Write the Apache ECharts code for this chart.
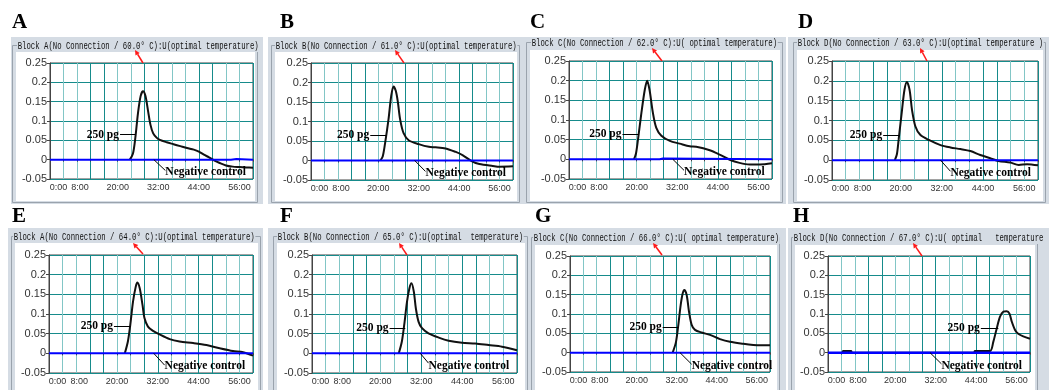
<!DOCTYPE html>
<html>
<head>
<meta charset="utf-8">
<script src="https://cdn.jsdelivr.net/npm/echarts@6.0.0/dist/echarts.min.js"></script>
<style>
  html, body { margin: 0; padding: 0; background: #fff; }
  #main { width: 1049px; height: 390px; }
</style>
</head>
<body>
<div id="main"></div>
<script>
// x axis: minutes, labels only at some ticks
const xTickValues = [0, 8, 20, 32, 44, 56];
const xTickLabels = ['0:00', '8:00', '20:00', '32:00', '44:00', '56:00'];

const panelLetters = ['A', 'B', 'C', 'D', 'E', 'F', 'G', 'H'];
const panelTitles = [
  'Block A(No Connection / 60.0° C):U(optimal temperature)',
  'Block B(No Connection / 61.0° C):U(optimal temperature)',
  'Block C(No Connection / 62.0° C):U( optimal temperature)',
  'Block D(No Connection / 63.0° C):U(optimal temperature )',
  'Block A(No Connection / 64.0° C):U(optimal temperature)',
  'Block B(No Connection / 65.0° C):U(optimal  temperature)',
  'Block C(No Connection / 66.0° C):U( optimal temperature)',
  'Block D(No Connection / 67.0° C):U( optimal   temperature'
];

// 250 pg curves, [minutes, value]
const curveA = [[23.6, 0], [24.5, 0.015], [25.2, 0.055], [26, 0.12], [26.8, 0.165], [27.5, 0.177], [28.2, 0.165], [29, 0.125], [29.7, 0.09], [30.5, 0.068], [31.5, 0.057], [32.5, 0.051], [34.5, 0.045], [36.5, 0.04], [38.5, 0.035], [40.5, 0.03], [42.5, 0.026], [44, 0.021], [45.5, 0.013], [47, 0.006], [48.5, -0.002], [50, -0.008], [52, -0.015], [54, -0.018], [56, -0.019], [58, -0.02], [60, -0.021]];
const curveB = [[20.6, 0], [21.3, 0.01], [22, 0.044], [23, 0.104], [23.8, 0.164], [24.5, 0.19], [25.2, 0.178], [25.8, 0.15], [26.5, 0.104], [27.5, 0.07], [29, 0.052], [32, 0.042], [35, 0.035], [37, 0.034], [40, 0.031], [43, 0.022], [45, 0.014], [48, -0.003], [50, -0.009], [54, -0.014], [56, -0.016], [60, -0.015]];
const curveC = [[19.2, 0], [19.8, 0.015], [20.4, 0.051], [21.4, 0.118], [22.4, 0.177], [23.1, 0.2], [23.8, 0.177], [24.8, 0.118], [25.8, 0.08], [27.3, 0.06], [29.8, 0.047], [32.7, 0.04], [35.7, 0.033], [37.6, 0.032], [41.6, 0.023], [44.5, 0.012], [47.5, -0.001], [50.4, -0.009], [53.4, -0.013], [56.4, -0.013], [60, -0.01]];
const curveD = [[18.3, 0], [18.9, 0.015], [19.4, 0.051], [20.4, 0.127], [21.1, 0.177], [21.8, 0.197], [22.6, 0.177], [23.3, 0.127], [24.3, 0.085], [25.7, 0.064], [28.2, 0.051], [31.6, 0.038], [34.5, 0.032], [37.4, 0.028], [40.3, 0.023], [43.2, 0.013], [46.1, 0.005], [48.5, -0.002], [51.9, -0.006], [54.4, -0.012], [56.8, -0.01], [60, -0.013]];
const curveE = [[22.3, 0], [23.2, 0.03], [23.9, 0.072], [24.7, 0.131], [25.5, 0.169], [26, 0.18], [26.7, 0.165], [27.5, 0.123], [28.1, 0.089], [29.1, 0.068], [30.6, 0.057], [32.5, 0.048], [35.5, 0.036], [38.4, 0.03], [42.4, 0.026], [46.3, 0.021], [50.2, 0.013], [54.1, 0.006], [57.1, 0.003], [60, -0.006]];
const curveF = [[25.4, 0], [26.3, 0.03], [27.1, 0.08], [27.8, 0.131], [28.5, 0.165], [29.1, 0.178], [29.8, 0.157], [30.4, 0.114], [31.2, 0.08], [32.2, 0.064], [34.1, 0.051], [37.1, 0.04], [40, 0.032], [43.9, 0.027], [47.8, 0.025], [51.7, 0.021], [55.6, 0.017], [60, 0.008]];
const curveG = [[30.8, 0], [31.8, 0.028], [32.5, 0.072], [33.2, 0.123], [33.8, 0.153], [34.3, 0.162], [35, 0.149], [35.7, 0.106], [36.5, 0.072], [37.5, 0.059], [39.5, 0.052], [42, 0.046], [45, 0.035], [48, 0.028], [52, 0.023], [55, 0.02], [57, 0.019], [60, 0.019]];
const curveH = [[4.3, 0], [4.5, 0.004], [6.9, 0.004], [7.1, 0], [43.4, 0], [43.6, 0.004], [48.1, 0.004], [49.1, 0.028], [50.1, 0.062], [51.1, 0.093], [52.1, 0.106], [53.1, 0.107], [53.9, 0.101], [54.6, 0.08], [55.6, 0.058], [56.5, 0.049], [58, 0.042], [60, 0.036]];

// negative controls
const negA = [[0, 0], [53.5, 0], [53.7, 0.002], [55.1, 0.002], [55.3, 0], [60, 0]];
const negC = [[0, 0], [26.8, 0], [27, 0.002], [27.8, 0.002], [28, 0], [60, 0]];
const negFlat = [[0, 0], [60, 0]];

const curves = [curveA, curveB, curveC, curveD, curveE, curveF, curveG, curveH];
const negatives = [negA, negFlat, negC, negFlat, negFlat, negFlat, negFlat, negFlat];

// label anchors in data units: [text end, leader end, value]
const pgNotes = [[20.4, 25.3, 0.065], [17.3, 22.4, 0.065], [15.5, 20.7, 0.065], [14.6, 19.7, 0.064], [18.8, 24.0, 0.069], [22.4, 27.3, 0.065], [27.5, 32.5, 0.066], [45.1, 50.6, 0.064]];
// [leader start, leader end, leader end value, text value]
const negNotes = [[30.7, 34.1, -0.028, -0.033], [30.8, 34.0, -0.028, -0.033], [30.7, 34.0, -0.028, -0.033], [31.6, 34.5, -0.028, -0.033], [30.8, 34.0, -0.03, -0.033], [31.7, 34.1, -0.025, -0.033], [33.0, 36.5, -0.03, -0.034], [30.3, 33.7, -0.029, -0.034]];

// layout (pixels)
const gridBoxes = [[50, 63, 203, 116], [311, 63, 202, 117], [569, 61, 203, 118], [832, 61, 206, 119], [49, 255, 204, 118], [312, 255, 205, 118], [570, 256, 200, 116], [828, 256, 202, 116]];
const grayBoxes = [[11, 37, 263, 204], [268, 37, 522, 204], [522, 37, 786, 204], [788, 37, 1049, 204], [8, 228, 263, 390], [268, 228, 530, 390], [530, 228, 786, 390], [788, 228, 1049, 390]];
const whiteBoxes = [[16, 52, 255, 201], [275, 52, 517, 201], [530, 50, 780, 201], [797, 50, 1043, 201], [15, 243, 258, 390], [277, 243, 525, 390], [535, 245, 777, 390], [795, 245, 1035, 390]];
const titlePos = [[17, 46], [275, 46], [531, 43], [797, 43], [13, 237], [277, 237], [533, 238], [793, 238]];
const letterPos = [[12, 23], [280, 23], [530, 23], [798, 23], [12, 217], [280, 217], [535, 217], [793, 217]];
const arrows = [[135, 50, 143, 63], [395, 50, 404, 63], [652, 48, 662, 61], [920, 48, 927, 61], [133, 243, 143, 254], [399, 243, 407, 255], [653, 243, 662, 255], [913, 243, 922, 256]];

const GRAY = '#d5dce4';
const TEAL = '#168b8b';
const TEAL_LIGHT = '#82c6c6';
const AXIS = '#444';
const SERIF = '"Liberation Serif", "Times New Roman", serif';
const SANS = '"Liberation Sans", Arial, sans-serif';

const grids = [];
const xAxes = [];
const yAxes = [];
const series = [];
const graphics = [];

panelLetters.forEach((letter, i) => {
  const [gl, gt, gw, gh] = gridBoxes[i];
  grids.push({ left: gl, top: gt, width: gw, height: gh, show: true, borderColor: AXIS, borderWidth: 1, backgroundColor: '#fff' });

  xAxes.push({
    gridIndex: i,
    type: 'value',
    min: 0,
    max: 60,
    interval: 4,
    axisLine: { lineStyle: { color: AXIS, width: 1 } },
    axisTick: { show: true, length: 2, lineStyle: { color: AXIS } },
    axisLabel: {
      color: '#333',
      fontFamily: SANS,
      fontSize: 9,
      margin: 4,
      formatter: v => {
        const k = xTickValues.indexOf(Math.round(v));
        if (k < 0) return '';
        if (k === 0) return '{first|' + xTickLabels[k] + '}';
        if (k === 1) return '{second|' + xTickLabels[k] + '}';
        return xTickLabels[k];
      },
      rich: {
        first: { padding: [0, 0, 0, 17] },
        second: { padding: [0, 0, 0, 6] }
      }
    },
    splitLine: { show: true, lineStyle: { color: [TEAL, TEAL_LIGHT, TEAL_LIGHT, TEAL], width: 1 } }
  });

  yAxes.push({
    gridIndex: i,
    type: 'value',
    min: -0.05,
    max: 0.25,
    interval: 0.05,
    axisLine: { show: true, lineStyle: { color: AXIS, width: 1 } },
    axisTick: { show: true, length: 3, lineStyle: { color: AXIS } },
    axisLabel: { color: '#333', fontFamily: SANS, fontSize: 11, margin: 3, formatter: v => String(+v.toFixed(2)) },
    splitLine: { show: true, lineStyle: { color: TEAL, width: 1 } }
  });

  const pg = pgNotes[i];
  const ng = negNotes[i];
  const noteLabel = { show: true, color: '#000', fontFamily: SERIF, fontWeight: 'bold', fontSize: 11.5 };

  series.push({
    name: '250 pg ' + letter,
    type: 'line',
    xAxisIndex: i,
    yAxisIndex: i,
    data: curves[i],
    showSymbol: false,
    smooth: 0.3,
    lineStyle: { color: '#111', width: 2 },
    z: 3,
    markLine: {
      silent: true,
      symbol: ['none', 'none'],
      label: { show: false },
      lineStyle: { color: '#000', width: 1, type: 'solid' },
      data: [
        [{ coord: [pg[0] + 0.3, pg[2]] }, { coord: [pg[1], pg[2]] }],
        [{ coord: [ng[0], 0] }, { coord: [ng[1], ng[2]] }]
      ]
    },
    markPoint: {
      silent: true,
      symbol: 'circle',
      symbolSize: 0,
      data: [
        { coord: [pg[0], pg[2]], label: Object.assign({}, noteLabel, { formatter: '250 pg', position: 'left', distance: 0 }) },
        { coord: [ng[1], ng[3]], label: Object.assign({}, noteLabel, { formatter: 'Negative control', position: 'right', distance: 0 }) }
      ]
    }
  });

  series.push({
    name: 'Negative control ' + letter,
    type: 'line',
    xAxisIndex: i,
    yAxisIndex: i,
    data: negatives[i],
    showSymbol: false,
    lineStyle: { color: '#0000ff', width: i === 7 ? 2.5 : 2 },
    z: 4
  });

  // panel frame, title, letter and red arrow
  const g = grayBoxes[i];
  const w = whiteBoxes[i];
  const t = titlePos[i];
  graphics.push({ type: 'rect', z: -10, shape: { x: g[0], y: g[1], width: g[2] - g[0], height: g[3] - g[1] }, style: { fill: GRAY } });
  graphics.push({ type: 'rect', z: -9, shape: { x: w[0] - 3.5, y: t[1] - 0.5, width: w[2] - w[0] + 6, height: w[3] - t[1] + 2 }, style: { fill: 'none', stroke: '#9aa3ad', lineWidth: 1 } });
  graphics.push({ type: 'rect', z: -8, shape: { x: w[0], y: w[1], width: w[2] - w[0], height: w[3] - w[1] }, style: { fill: '#fff' } });
  graphics.push({
    type: 'text', z: 50, x: t[0], y: t[1], scaleX: 0.73,
    style: { text: panelTitles[i], font: '10px "Liberation Mono", "DejaVu Sans Mono", monospace', fill: '#111', verticalAlign: 'middle', backgroundColor: GRAY, padding: [1, 1] }
  });
  graphics.push({
    type: 'text', z: 50, x: letterPos[i][0], y: letterPos[i][1],
    style: { text: letter, font: 'bold 21px ' + SERIF, fill: '#000', verticalAlign: 'middle' }
  });
  const [hx, hy, tx, ty] = arrows[i];
  const len = Math.hypot(hx - tx, hy - ty);
  const ux = (hx - tx) / len;
  const uy = (hy - ty) / len;
  const bx = hx - ux * 5;
  const by = hy - uy * 5;
  graphics.push({ type: 'line', z: 60, shape: { x1: tx, y1: ty, x2: bx, y2: by }, style: { stroke: '#ff1a1a', lineWidth: 1.5 } });
  graphics.push({
    type: 'polygon', z: 60,
    shape: { points: [[hx, hy], [bx - uy * 2.5, by + ux * 2.5], [bx + uy * 2.5, by - ux * 2.5]] },
    style: { fill: '#ff1a1a' }
  });
});

const chart = echarts.init(document.getElementById('main'), null, { renderer: 'canvas' });
chart.setOption({
  animation: false,
  backgroundColor: '#fff',
  grid: grids,
  xAxis: xAxes,
  yAxis: yAxes,
  series: series,
  graphic: graphics
});
</script>
</body>
</html>
